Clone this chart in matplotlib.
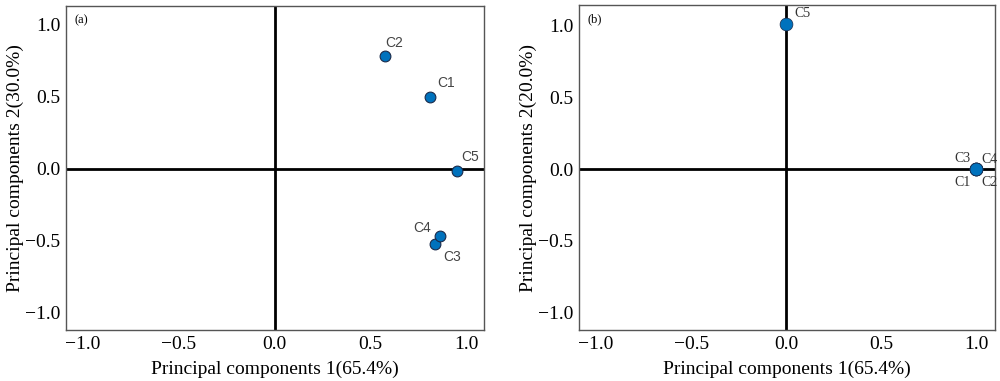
import matplotlib
matplotlib.use("Agg")
import matplotlib.pyplot as plt

# Panel (a)
labels_a = ["C1", "C2", "C3", "C4", "C5"]
pc1_a = [0.81, 0.575, 0.835, 0.86, 0.95]
pc2_a = [0.50, 0.78, -0.525, -0.47, -0.015]

# Panel (b)
labels_b = ["C1", "C2", "C3", "C4", "C5"]
pc1_b = [1.0, 1.0, 1.0, 1.0, 0.0]
pc2_b = [0.0, 0.0, 0.0, 0.0, 1.01]

xlabel_text = "Principal components 1(65.4%)"
ylabel_a = "Principal components 2(30.0%)"
ylabel_b = "Principal components 2(20.0%)"
ticks = [-1.0, -0.5, 0.0, 0.5, 1.0]
tick_labels = ["\u22121.0", "\u22120.5", "0.0", "0.5", "1.0"]

serif = ["Liberation Serif", "DejaVu Serif"]
sans = ["Liberation Sans", "DejaVu Sans"]

fig = plt.figure(figsize=(10, 3.81), dpi=100)
ax1 = fig.add_axes([0.066, 0.134, 0.418, 0.850])
ax2 = fig.add_axes([0.579, 0.134, 0.416, 0.852])

marker_color = "#0072BD"
edge_color = "#1a2a4a"

def style_axes(ax, xlim, ylim, ylabel):
    ax.set_xlim(*xlim)
    ax.set_ylim(*ylim)
    ax.axhline(0, color="black", lw=2.0, zorder=1)
    ax.axvline(0, color="black", lw=2.0, zorder=1)
    ax.set_xticks(ticks)
    ax.set_xticklabels(tick_labels, fontfamily=serif, fontsize=14)
    ax.set_yticks(ticks)
    ax.set_yticklabels(tick_labels, fontfamily=serif, fontsize=14)
    ax.tick_params(length=0, pad=4)
    for s in ax.spines.values():
        s.set_color("#555555")
        s.set_linewidth(1.0)
    ax.set_xlabel(xlabel_text, fontfamily=serif, fontsize=14, labelpad=6)
    ax.set_ylabel(ylabel, fontfamily=serif, fontsize=14, labelpad=1)

style_axes(ax1, (-1.085, 1.09), (-1.12, 1.13), ylabel_a)
style_axes(ax2, (-1.09, 1.10), (-1.12, 1.14), ylabel_b)

ax1.scatter(pc1_a, pc2_a, s=60, color=marker_color, edgecolor=edge_color,
            linewidth=0.8, zorder=3)
ax2.scatter(pc1_b, pc2_b, s=85, color=marker_color, edgecolor=edge_color,
            linewidth=0.5, zorder=3)

# labels panel (a)
offs_a = {"C1": (5, 5, "left", "bottom"), "C2": (0, 5, "left", "bottom"),
          "C3": (6, -4, "left", "top"), "C4": (-6, 1, "right", "bottom"),
          "C5": (3, 5, "left", "bottom")}
for lab, x, y in zip(labels_a, pc1_a, pc2_a):
    dx, dy, ha, va = offs_a[lab]
    ax1.annotate(lab, (x, y), xytext=(dx, dy), textcoords="offset points",
                 ha=ha, va=va, fontsize=10, color="#444444", fontfamily=sans)

offs_b = {"C1": (-4, -5, "right", "top"), "C2": (4, -5, "left", "top"),
          "C3": (-4, 3, "right", "bottom"), "C4": (4, 2, "left", "bottom"),
          "C5": (6, 3, "left", "bottom")}
for lab, x, y in zip(labels_b, pc1_b, pc2_b):
    dx, dy, ha, va = offs_b[lab]
    ax2.annotate(lab, (x, y), xytext=(dx, dy), textcoords="offset points",
                 ha=ha, va=va, fontsize=10, color="#333333", fontfamily=serif)

ax1.text(0.02, 0.975, "(a)", transform=ax1.transAxes, ha="left", va="top",
         fontsize=9, fontfamily=serif)
ax2.text(0.02, 0.975, "(b)", transform=ax2.transAxes, ha="left", va="top",
         fontsize=9, fontfamily=serif)

fig.savefig("out.png", dpi=100)
